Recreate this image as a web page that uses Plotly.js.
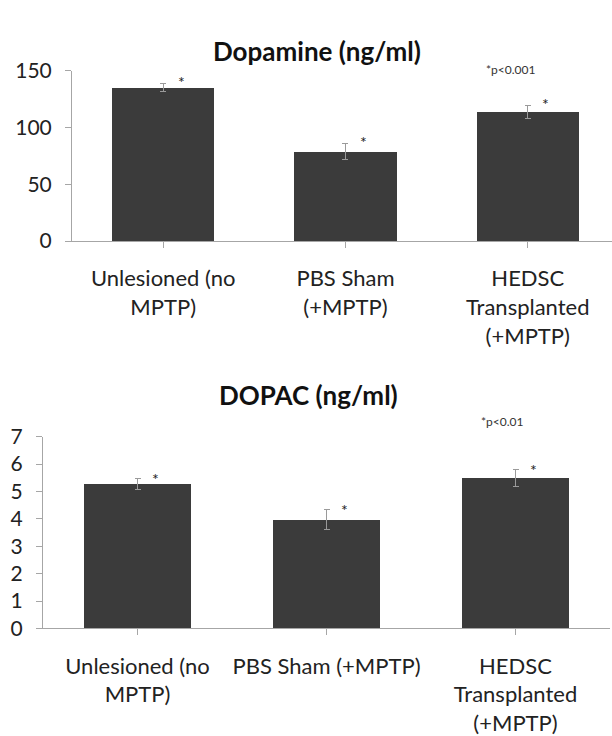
<!DOCTYPE html>
<html>
<head>
<meta charset="utf-8">
<script src="https://cdn.plot.ly/plotly-3.0.1.min.js"></script>
<style>html,body{margin:0;padding:0;background:#fff;}#chart{width:612px;height:736px;}</style>
</head>
<body>
<div id="chart"></div>
<script>
// ---- data ----
const categoriesTop = ["Unlesioned (no<br>MPTP)", "PBS Sham<br>(+MPTP)", "HEDSC<br>Transplanted<br>(+MPTP)"];
const categoriesBottom = ["Unlesioned (no<br>MPTP)", "PBS Sham (+MPTP)", "HEDSC<br>Transplanted<br>(+MPTP)"];
const dopamine = [135, 78.5, 113.5];
const dopamineErr = [3.5, 7, 5.5];
const dopac = [5.27, 3.97, 5.49];
const dopacErr = [0.19, 0.36, 0.3];
const titleTop = "Dopamine (ng/ml)";
const titleBottom = "DOPAC (ng/ml)";
const noteTop = "*p<0.001";
const noteBottom = "*p<0.01";

const FONT = "Lato, 'Open Sans', sans-serif";
const barColor = "#3b3b3b";
const errColor = "#9a9a9a";
const axisColor = "#a6a6a6";

const traces = [
  {type: "bar", x: [0,1,2], y: dopamine, xaxis: "x", yaxis: "y",
   width: 0.56, marker: {color: barColor},
   error_y: {type: "data", array: dopamineErr, visible: true, color: errColor, thickness: 1, width: 3}},
  {type: "bar", x: [0,1,2], y: dopac, xaxis: "x2", yaxis: "y2",
   width: 0.57, marker: {color: barColor},
   error_y: {type: "data", array: dopacErr, visible: true, color: errColor, thickness: 1, width: 3}}
];

const annotations = [];
function addStars(vals, errs, xref, yref, yshift) {
  vals.forEach((v, i) => {
    annotations.push({x: i, y: v + errs[i], xref: xref, yref: yref, text: "*", showarrow: false,
      xshift: 18, yshift: yshift, font: {family: FONT, size: 16, color: "#222"}});
  });
}
addStars(dopamine, dopamineErr, "x", "y", 2);
addStars(dopac, dopacErr, "x2", "y2", 0);
annotations.push({xref: "paper", yref: "paper", x: 317/612, y: 1 - 33/736, text: "<b>" + titleTop + "</b>",
  showarrow: false, font: {family: FONT, size: 26, color: "#111"}});
annotations.push({xref: "paper", yref: "paper", x: 308/612, y: 1 - 395/736, text: "<b>" + titleBottom + "</b>",
  showarrow: false, font: {family: FONT, size: 26, color: "#111"}});
annotations.push({xref: "paper", yref: "paper", x: 537/612, y: 1 - 60/736, text: noteTop,
  showarrow: false, font: {family: FONT, size: 12, color: "#333"}});
annotations.push({xref: "paper", yref: "paper", x: 526/612, y: 1 - 421/736, text: noteBottom,
  showarrow: false, font: {family: FONT, size: 12, color: "#333"}});

const xcommon = {
  tickmode: "array", tickson: "boundaries", ticks: "outside", ticklen: 6, tickcolor: axisColor,
  showline: true, linecolor: axisColor, linewidth: 1, showgrid: false, zeroline: false,
  tickfont: {family: FONT, size: 22, color: "#222"}, ticklabelstandoff: 12, fixedrange: true
};
const ycommon = {
  ticks: "outside", ticklen: 6, tickcolor: axisColor, showline: true, linecolor: axisColor, linewidth: 1,
  showgrid: false, zeroline: false, tickfont: {family: FONT, size: 21, color: "#222"}, ticklabelstandoff: 9
};

const layout = {
  width: 612, height: 736,
  margin: {l: 0, r: 0, t: 0, b: 0},
  paper_bgcolor: "#fff", plot_bgcolor: "#fff",
  showlegend: false, bargap: 0,
  xaxis: Object.assign({}, xcommon, {domain: [72/612, 1], range: [-0.5, 2.462], anchor: "y",
    tickvals: [0,1,2], ticktext: categoriesTop}),
  yaxis: Object.assign({}, ycommon, {domain: [(736-241)/736, (736-70.5)/736], range: [0, 150], dtick: 50, anchor: "x"}),
  xaxis2: Object.assign({}, xcommon, {domain: [43/612, 610/612], range: [-0.5, 2.5], anchor: "y2",
    tickvals: [0,1,2], ticktext: categoriesBottom}),
  yaxis2: Object.assign({}, ycommon, {domain: [(736-628.4)/736, (736-436.7)/736], range: [0, 7], dtick: 1, anchor: "x2"}),
  annotations: annotations
};

Plotly.newPlot("chart", traces, layout, {displayModeBar: false, staticPlot: true});
</script>
</body>
</html>
